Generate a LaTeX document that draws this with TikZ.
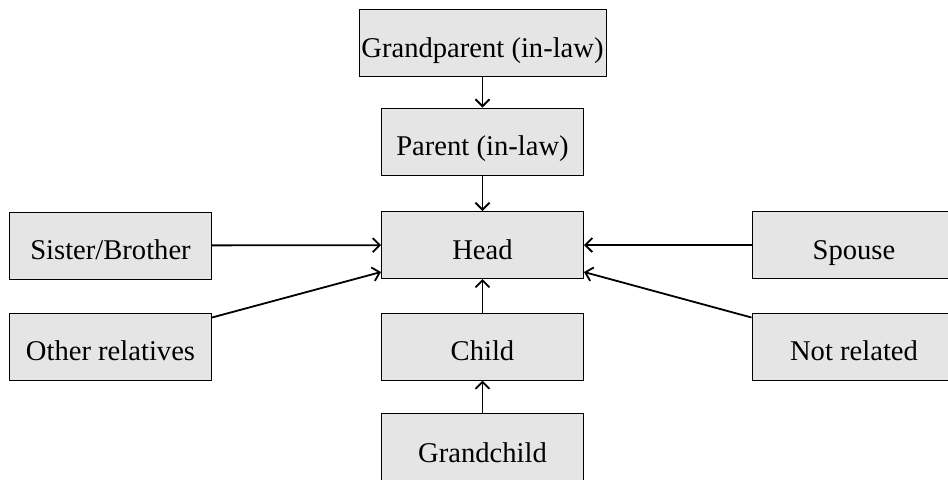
\documentclass[tikz,border=0pt]{standalone}
\usepackage{fontspec}
\setmainfont{Liberation Serif}
\usetikzlibrary{arrows.meta}

\begin{document}
\begin{tikzpicture}[x=0.5pt, y=-0.5pt,
  box/.style={rectangle, draw=black, line width=0.5pt, fill=black!10, inner sep=0pt,
    minimum width=101pt, minimum height=33.5pt, text height=14.4pt, text depth=0pt,
    font=\fontsize{14.3}{17}\selectfont},
  link/.style={line width=0.9pt, -{Straight Barb[length=3.5pt,width=7pt]}},
  ]

\useasboundingbox (0,0) rectangle (948,479);
\clip (0,0) rectangle (948,479);

% middle column
\node (gp) [box, minimum width=123.5pt] at (482.5, 43) {Grandparent (in-law)};
\node (par) [box] at (482.5, 141.5) {Parent (in-law)};
\node (head) [box] at (482.5, 245) {Head};
\node (child) [box] at (482.5, 346.5) {Child};
\node (gchild) [box, minimum height=35pt] at (482.5, 448) {Grandchild};

% sides
\node (sib) [box] at (110.5, 245.5) {Sister/Brother};
\node (oth) [box] at (110.5, 346.5) {Other relatives};
\node (sp) [box, minimum width=102pt] at (854, 245) {Spouse};
\node (nr) [box, minimum width=102pt] at (854, 346.5) {Not related};

\draw [link] (gp) -- (par);
\draw [link] (par) -- (head);
\draw [link] (child) -- (head);
\draw [link] (gchild) -- (child);
\draw [link] (sib) -- (head);
\draw [link] (sp) -- (head);
\draw [link] ([yshift=-2.5pt]oth.north east) -- ([yshift=3.5pt]head.south west);
\draw [link] ([yshift=-2.5pt]nr.north west) -- ([yshift=3.5pt]head.south east);

\end{tikzpicture}
\end{document}
